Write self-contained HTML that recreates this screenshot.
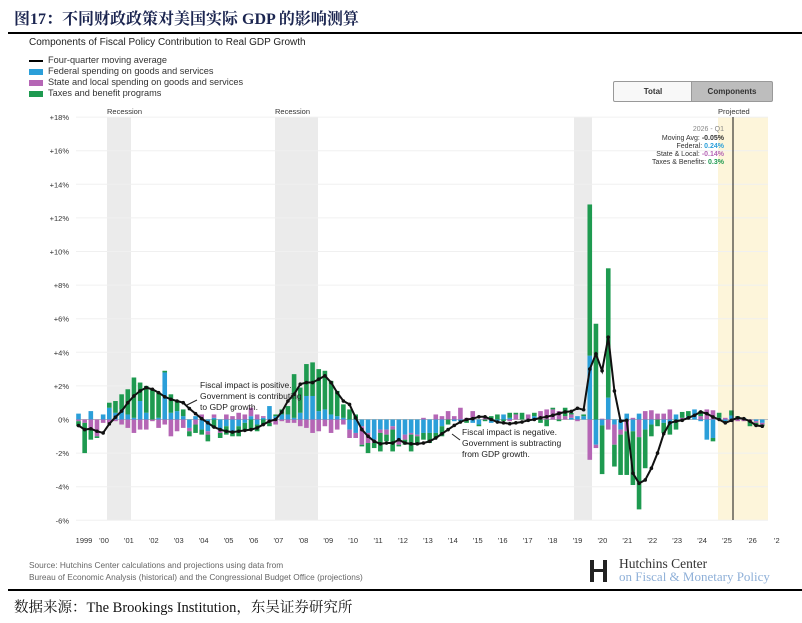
<!DOCTYPE html>
<html><head><meta charset="utf-8"><style>
body{margin:0;background:#fff;width:802px;height:623px;overflow:hidden;position:relative;font-family:"Liberation Sans",sans-serif}
.t{position:absolute;white-space:nowrap}
</style></head><body>
<div class="t" style="left:14px;top:6px;font:bold 16px 'Liberation Serif','Noto Serif CJK SC',serif;color:#1b2550">图17：不同财政政策对美国实际 GDP 的影响测算</div>
<div style="position:absolute;left:8px;top:32px;width:794px;height:2px;background:#000"></div>
<div class="t" style="left:29px;top:37px;font-size:10px;color:#222">Components of Fiscal Policy Contribution to Real GDP Growth</div>
<div class="t" style="left:29px;top:55px;font-size:9.2px;color:#333;line-height:11px">
<div><span style="display:inline-block;width:14px;height:2px;background:#000;vertical-align:middle;margin-right:5px"></span>Four-quarter moving average</div>
<div><span style="display:inline-block;width:14px;height:6px;background:#2b9fd9;vertical-align:middle;margin-right:5px"></span>Federal spending on goods and services</div>
<div><span style="display:inline-block;width:14px;height:6px;background:#b566b5;vertical-align:middle;margin-right:5px"></span>State and local spending on goods and services</div>
<div><span style="display:inline-block;width:14px;height:6px;background:#1e9a50;vertical-align:middle;margin-right:5px"></span>Taxes and benefit programs</div>
</div>
<div style="position:absolute;left:613px;top:81px;width:78px;height:19px;border:1px solid #999;border-radius:2px 0 0 2px;background:#f8f8f8;font:bold 8px 'Liberation Sans';text-align:center;line-height:19px;color:#333">Total</div>
<div style="position:absolute;left:691px;top:81px;width:80px;height:19px;border:1px solid #999;border-radius:0 2px 2px 0;background:#bdbdbd;font:bold 8px 'Liberation Sans';text-align:center;line-height:19px;color:#333">Components</div>
<svg id="c" width="802" height="623" style="position:absolute;left:0;top:0"></svg>
<div class="t" style="left:29px;top:559px;font-size:8.3px;color:#666;line-height:12px">Source: Hutchins Center calculations and projections using data from<br>Bureau of Economic Analysis (historical) and the Congressional Budget Office (projections)</div>
<div style="position:absolute;left:590px;top:560px;width:4px;height:22px;background:#222"></div>
<div style="position:absolute;left:603px;top:560px;width:4px;height:22px;background:#222"></div>
<div style="position:absolute;left:594px;top:569px;width:9px;height:3px;background:#222"></div>
<div class="t" style="left:619px;top:556px;font:13.5px 'Liberation Serif',serif;color:#333">Hutchins Center</div>
<div class="t" style="left:619px;top:569px;font:13px 'Liberation Serif',serif;color:#8fb0d8">on Fiscal &amp; Monetary Policy</div>
<div style="position:absolute;left:8px;top:589px;width:794px;height:2px;background:#000"></div>
<div class="t" style="left:14px;top:596px;font:14.5px 'Liberation Serif','Noto Serif CJK SC',serif;color:#111">数据来源：The Brookings Institution，东吴证券研究所</div>
<script>
var S=document.getElementById('c'),h='';
function Y(v){return 419.5-v*16.8}
function X(i){return 78.5+6.16*i}
h+='<rect x="107" y="117" width="24" height="403" fill="#ebebeb"/><rect x="275" y="117" width="43" height="403" fill="#ebebeb"/><rect x="574" y="117" width="18" height="403" fill="#ebebeb"/><rect x="718" y="117" width="50" height="403" fill="#fdf5da"/>';
for(var v=-6;v<=18;v+=2){var y=Y(v);h+='<line x1="76" x2="768" y1="'+y+'" y2="'+y+'" stroke="'+(v==0?'#bbb':'#f0f0f0')+'" stroke-width="1"/>';h+='<text x="69" y="'+(y+3)+'" font-size="7.5" text-anchor="end" fill="#333">'+(v>0?'+':'')+v+'%</text>';}
var lab=['1999',"'00","'01","'02","'03","'04","'05","'06","'07","'08","'09","'10","'11","'12","'13","'14","'15","'16","'17","'18","'19","'20","'21","'22","'23","'24","'25","'26","'2"];
lab.forEach(function(l,k){h+='<text x="'+(l=='1999'?84:104+(k-1)*24.92)+'" y="543" font-size="7.5" text-anchor="middle" fill="#333">'+l+'</text>'});
h+='<text x="107" y="114" font-size="7.5" fill="#333">Recession</text><text x="275" y="114" font-size="7.5" fill="#333">Recession</text><text x="718" y="114" font-size="7.5" fill="#333">Projected</text>';
var D={0:[.35,-.1,-.3],1:[0,-.2,-1.8],2:[.5,-.6,-.6],3:[0,-1,-.1],4:[.3,-.2,0],5:[.7,-.2,.3],6:[.4,-.1,.7],7:[.6,-.3,.9],8:[.3,-.5,1.5],9:[.1,-.8,2.4],10:[1.1,-.6,1.1],11:[.4,-.6,1.6],12:[0,-.1,1.8],13:[.1,-.5,1.5],14:[2.8,-.3,.1],15:[.4,-1,1.1],16:[.5,-.7,.6],17:[.2,-.5,.4],
18:[-.5,-.2,-.3],19:[.2,-.3,-.5],20:[-.6,.3,-.3],21:[-.7,-.2,-.4],22:[.1,.2,-.5],23:[-.6,-.2,-.3],24:[-.4,.3,-.5],25:[-.7,.2,-.3],26:[-.4,.4,-.6],27:[-.2,.3,-.5],28:[.2,.5,-.6],29:[-.3,.3,-.4],30:[.1,.1,-.3],31:[.8,-.2,-.2],32:[.2,-.3,.1],33:[.3,-.1,.3],
34:[.3,-.2,.5],35:[.1,-.2,2.6],36:[.4,-.4,1.5],37:[1.4,-.5,1.9],38:[1.4,-.8,2],39:[.5,-.7,2.5],40:[.6,-.4,2.3],41:[.3,-.8,2],42:[.2,-.6,1.5],43:[.1,-.3,.8],44:[-.6,-.5,.6],45:[-.8,-.3,.3],
46:[-.4,-1.1,-.1],47:[-.8,-.6,-.6],48:[-1.2,-.2,-.3],49:[-.6,-.2,-1.1],50:[-.6,-.3,-.4],51:[-.4,-.2,-1.3],52:[-1.3,-.2,-.1],53:[-.9,-.3,-.3],54:[-.8,-.1,-1],55:[-.9,-.1,-.5],56:[-.8,.1,-.4],57:[-.8,0,-.6],58:[-.8,.3,-.3],59:[-.4,.2,-.6],60:[0,.5,-.3],61:[-.1,.2,0],62:[-.1,.7,0],63:[0,.1,-.2],64:[-.2,.5,0],65:[-.3,0,-.1],66:[0,.1,-.1],67:[-.2,0,.2],68:[-.1,0,.3],69:[.3,0,-.1],70:[.1,-.1,.3],71:[0,.3,.1],72:[0,0,.4],73:[-.1,.3,0],74:[.2,0,.2],75:[0,.5,-.2],76:[0,.6,-.4],77:[0,.6,.1],78:[0,.5,-.1],79:[0,.2,.5],
80:[.1,.2,.1],81:[.2,-.1,0],82:[.2,0,.1],83:[3.8,-2.4,9],84:[-1.5,-.2,5.7],85:[-.35,.05,-2.9],86:[1.3,-.6,7.7],87:[-.3,-1.2,-1.3],88:[-.6,-.3,-2.4],89:[.35,-.7,-2.6],90:[-.7,.1,-3.2],91:[.35,-1.05,-4.3],92:[-.6,.5,-2.3],93:[-.3,.55,-.7],94:[0,.35,-.4],95:[-.2,.35,-.6],96:[-.3,.6,-.6],97:[.3,0,-.6],98:[0,.1,.35],99:[.2,0,.3],100:[.6,0,0],101:[-.1,.2,.3],102:[-1.2,.6,0],103:[-1.1,.55,-.2],104:[.1,0,.3],105:[-.1,.1,-.1],106:[.24,-.14,.3],107:[.1,-.1,.1],108:[.1,-.1,0],109:[0,-.1,-.3],110:[-.1,-.1,-.2],111:[-.2,-.1,-.1]};
var col=['#2b9fd9','#b566b5','#1e9a50'];
for(var i=0;i<112;i++){var d=D[i];if(!d)continue;var up=0,dn=0,x=X(i)-2.3;
 [0,1,2].forEach(function(k){var v=d[k];if(v>0){h+='<rect x="'+x+'" y="'+Y(up+v)+'" width="4.6" height="'+(v*16.8)+'" fill="'+col[k]+'"/>';up+=v}else if(v<0){h+='<rect x="'+x+'" y="'+Y(dn)+'" width="4.6" height="'+(-v*16.8)+'" fill="'+col[k]+'"/>';dn+=v}});}
var M=[-.36,-.6,-.55,-.7,-.8,-.26,.14,.5,1,1.4,1.7,1.9,1.8,1.6,1.35,1.2,1.1,1,.65,.35,.05,-.2,-.45,-.6,-.7,-.75,-.7,-.65,-.6,-.5,-.3,-.1,0,.45,1.1,1.5,2.1,2.2,2.2,2.4,2.6,2.2,1.6,1.1,.9,.1,-.6,-1,-1.3,-1.45,-1.4,-1.4,-1.2,-1.4,-1.45,-1.45,-1.4,-1.3,-1.1,-.85,-.6,-.35,-.15,0,.05,.16,.16,0,-.15,-.2,-.25,-.2,-.15,-.05,0,.1,.16,.25,.36,.45,.48,.67,.58,3,3.9,2.9,4.9,1.7,-.1,-.05,-3.2,-3.8,-3.6,-2.9,-2,-.85,-.2,-.1,-.05,.1,.25,.45,.35,.15,0,-.2,-.05,.1,.05,-.1,-.35,-.4];
var p=M.map(function(v,i){return X(i).toFixed(1)+','+Y(v).toFixed(1)}).join(' ');
h+='<polyline points="'+p+'" fill="none" stroke="#111" stroke-width="2"/>';
M.forEach(function(v,i){h+='<circle cx="'+X(i)+'" cy="'+Y(v)+'" r="1.8" fill="#111"/>'});
h+='<line x1="733" x2="733" y1="117" y2="520" stroke="#111" stroke-width="1"/>';
h+='<g font-size="7" text-anchor="end"><text x="724" y="131" fill="#888">2026 - Q1</text><text x="724" y="140" fill="#333">Moving Avg: <tspan font-weight="bold">-0.05%</tspan></text><text x="724" y="148" fill="#333">Federal: <tspan font-weight="bold" fill="#2b9fd9">0.24%</tspan></text><text x="724" y="156" fill="#333">State &amp; Local: <tspan font-weight="bold" fill="#b566b5">-0.14%</tspan></text><text x="724" y="164" fill="#333">Taxes &amp; Benefits: <tspan font-weight="bold" fill="#1e9a50">0.3%</tspan></text></g>';
h+='<g font-size="8.5" fill="#222"><text x="200" y="388">Fiscal impact is positive.</text><text x="200" y="399">Government is contributing</text><text x="200" y="410">to GDP growth.</text><text x="462" y="435">Fiscal impact is negative.</text><text x="462" y="446">Government is subtracting</text><text x="462" y="457">from GDP growth.</text></g>';
h+='<line x1="197" y1="400" x2="187" y2="405" stroke="#222"/><line x1="460" y1="440" x2="452" y2="434" stroke="#222"/>';
S.innerHTML=h;
</script>
</body></html>
